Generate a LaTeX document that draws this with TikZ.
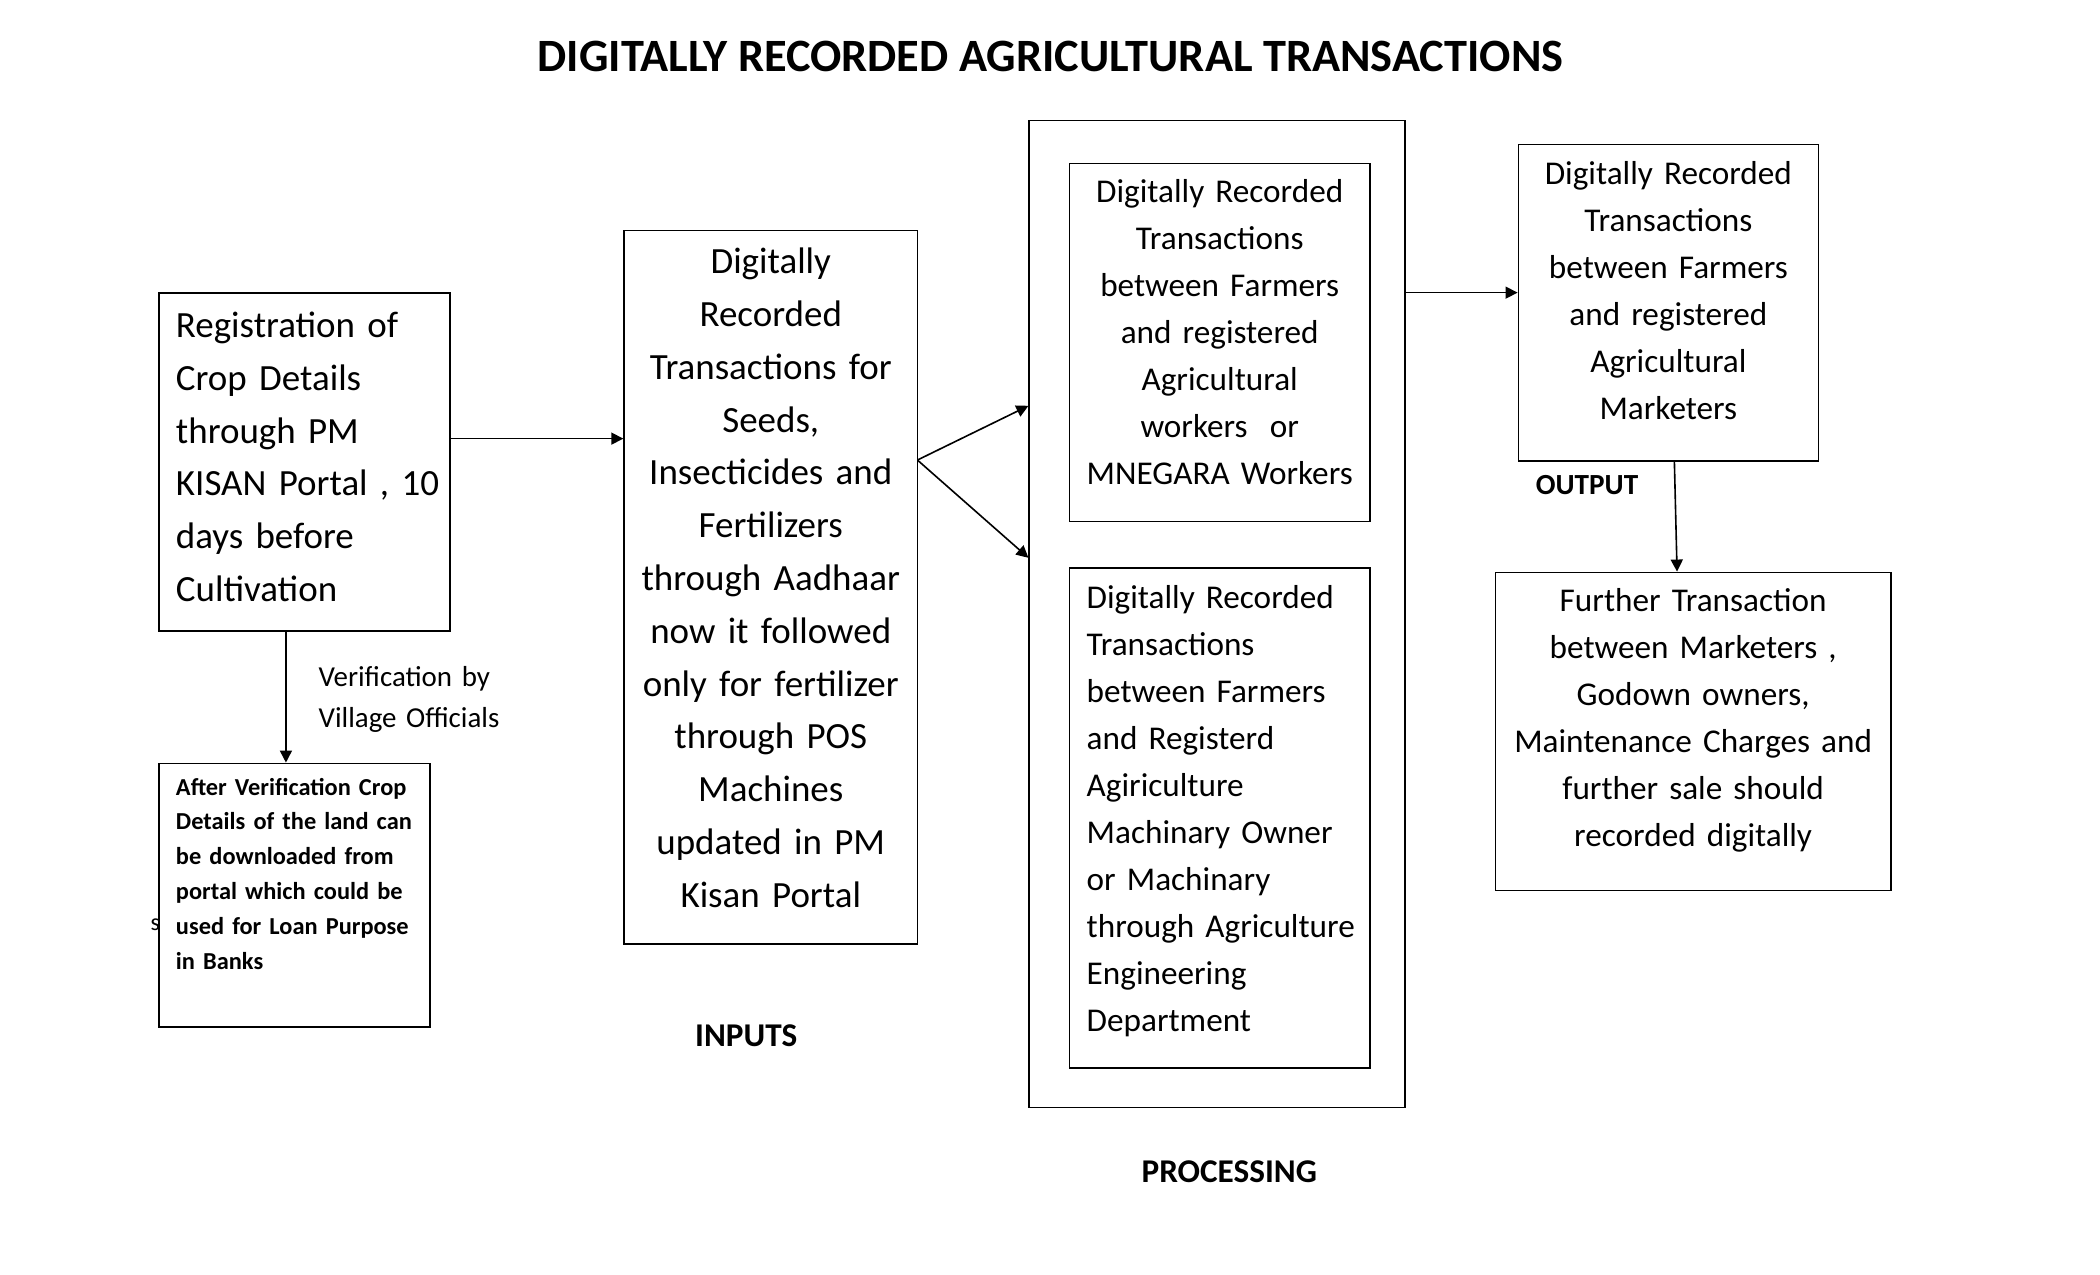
\documentclass[tikz,border=0pt]{standalone}
\usepackage{fontspec}
\setmainfont{Carlito}
\usetikzlibrary{fit,arrows.meta}
\frenchspacing
\begin{document}
\begin{tikzpicture}[x=0.5pt,y=-0.5pt,
  box/.style={draw=black,line width=0.6pt,inner sep=0pt},
  arr/.style={draw=black,line width=0.6pt,-{Triangle[length=4.5pt,width=4.5pt]}},
  ctext/.style={inner sep=0pt,anchor=base,align=center},
  ltext/.style={inner sep=0pt,anchor=base west,align=left},
  bigf/.style={font=\fontsize{13.8pt}{19.7pt}\selectfont},
  midf/.style={font=\fontsize{12.4pt}{17.55pt}\selectfont},
  smallbf/.style={font=\bfseries\fontsize{9.1pt}{13pt}\selectfont},
  verf/.style={font=\fontsize{10.8pt}{15.1pt}\selectfont},
  lab/.style={inner sep=0pt,anchor=base west,font=\bfseries\fontsize{12.4pt}{14pt}\selectfont}]
\useasboundingbox[fill=white] (0,0) rectangle (1568,952);

% title
\node[inner sep=0pt,anchor=base,font=\bfseries\fontsize{17.3pt}{20pt}\selectfont] (title) at (784.4,53.5) {DIGITALLY RECORDED AGRICULTURAL TRANSACTIONS};

% boxes
\node[box,fit={(118.5,219) (336,471)}] (A) {};
\node[box,fit={(118.5,570) (321,767)}] (F) {};
\node[box,fit={(466,172) (685,705)}] (B) {};
\node[box,fit={(768.5,90) (1049,827)}] (P) {};
\node[box,fit={(798.5,122) (1023,389.5)}] (C1) {};
\node[box,fit={(798.5,424) (1023,797.4)}] (C2) {};
\node[box,fit={(1133.7,108) (1357.8,344.3)}] (D) {};
\node[box,fit={(1116.5,427.4) (1412,665)}] (E) {};

% texts
\node[ltext,bigf,text width=102pt] (tA) at (131,252) {Registration of\\Crop Details\\through PM\\KISAN Portal , 10\\days before\\Cultivation};
\node[ctext,bigf,text width=108pt] (tB) at (575.5,204.5) {Digitally\\Recorded\\Transactions for\\Seeds,\\Insecticides and\\Fertilizers\\through Aadhaar\\now it followed\\only for fertilizer\\through POS\\Machines\\updated in PM\\Kisan Portal};
\node[ctext,midf,text width=110pt] (tC1) at (910.7,151) {Digitally Recorded\\Transactions\\between Farmers\\and registered\\Agricultural\\workers\ \ or\\MNEGARA Workers};
\node[ltext,midf,text width=105pt] (tC2) at (811,454) {Digitally Recorded\\Transactions\\between Farmers\\and Registerd\\Agiriculture\\Machinary Owner\\or Machinary\\through Agriculture\\Engineering\\Department};
\node[ctext,midf,text width=110pt] (tD) at (1245.7,138) {Digitally Recorded\\Transactions\\between Farmers\\and registered\\Agricultural\\Marketers};
\node[ctext,midf,text width=145pt] (tE) at (1264.2,456.8) {Further Transaction\\between Marketers ,\\Godown owners,\\Maintenance Charges and\\further sale should\\recorded digitally};
\node[ltext,smallbf,text width=96pt] (tF) at (131,593.7) {After Verification Crop\\Details of the land can\\be downloaded from\\portal which could be\\used for Loan Purpose\\in Banks};
\node[ltext,verf,text width=80pt] (tV) at (237.5,512.8) {Verification by\\Village Officials};
\node[inner sep=0pt,anchor=base west,font=\fontsize{9pt}{11pt}\selectfont] (stray) at (112,694.5) {s};

% labels
\node[lab] (inputs) at (518.7,781.2) {INPUTS};
\node[lab] (processing) at (852,883.2) {PROCESSING};
\node[lab,font=\bfseries\fontsize{10.9pt}{12pt}\selectfont] (output) at (1146.4,369) {OUTPUT};

% connectors
\coordinate (yab) at (0,327.5);
\draw[arr] (A.east |- yab) -- (B.west |- yab);
\coordinate (xaf) at (213.5,0);
\draw[arr] (A.south -| xaf) -- (F.north -| xaf);
\coordinate (split) at (685,343.5);
\coordinate (yp1) at (0,303);
\coordinate (yp2) at (0,416.5);
\draw[arr] (split) -- (P.west |- yp1);
\draw[arr] (split) -- (P.west |- yp2);
\coordinate (ypd) at (0,218.5);
\draw[arr] (P.east |- ypd) -- (D.west |- ypd);
\coordinate (xd) at (1250.2,0);
\coordinate (xe) at (1252.2,0);
\draw[arr] (D.south -| xd) -- (E.north -| xe);
\end{tikzpicture}
\end{document}
